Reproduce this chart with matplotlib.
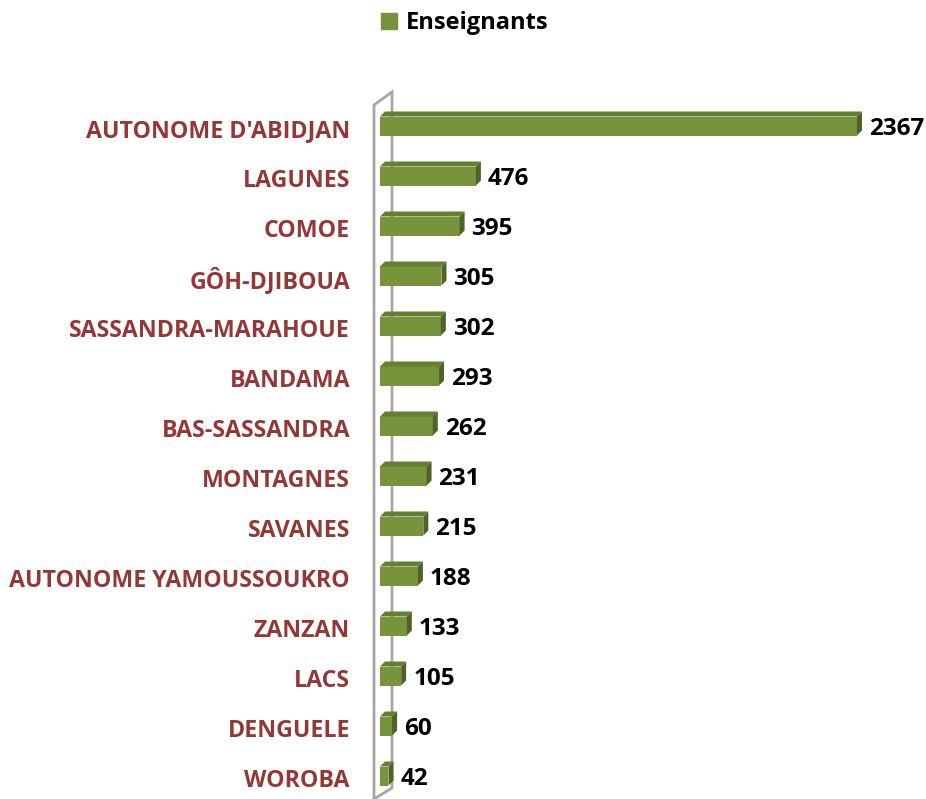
import numpy as np
import matplotlib
matplotlib.use("Agg")
import matplotlib.pyplot as plt
from matplotlib.patches import Polygon, Patch

regions = ["AUTONOME D'ABIDJAN", "LAGUNES", "COMOE", "GÔH-DJIBOUA",
           "SASSANDRA-MARAHOUE", "BANDAMA", "BAS-SASSANDRA", "MONTAGNES",
           "SAVANES", "AUTONOME YAMOUSSOUKRO", "ZANZAN", "LACS",
           "DENGUELE", "WOROBA"]
enseignants = [2367, 476, 395, 305, 302, 293, 262, 231, 215, 188, 133, 105, 60, 42]
series_name = "Enseignants"

front_col = "#77933c"
top_col = "#647f30"
side_col = "#4f6228"
label_col = "#953735"
wall_col = "#a6a6a6"
font = "Open Sans"

W, H = 926, 799
fig = plt.figure(figsize=(W / 100, H / 100), dpi=100)
ax_left = 380
ax = fig.add_axes([ax_left / W, 0, (W - ax_left) / W, 1])

px_per_unit = 0.2015          # pixels per teacher along x
row_px = 50                   # pixels per category row
xmax = (W - ax_left) / px_per_unit
ax.set_xlim(0, xmax)
ax.set_ylim(-23 / row_px, (H - 23) / row_px)

ux = 1 / px_per_unit          # one pixel in x data units
uy = 1 / row_px               # one pixel in y data units

y = np.arange(len(regions))[::-1]
h = 19 * uy
dx, dy = 5 * ux, 5 * uy

# back wall, drawn first so bars sit in front of it
wl, wr = -6 * ux, 12 * ux
wall = [(wl, -0.5), (wl, 13.42), (wr, 13.68), (wr, -0.24), (wl, -0.46)]
ax.plot([p[0] for p in wall], [p[1] for p in wall], color=wall_col,
        lw=2, clip_on=False, zorder=1, solid_joinstyle="miter")

ax.barh(y, enseignants, height=h, color=front_col, zorder=3, linewidth=0)
for yi, v, name in zip(y, enseignants, regions):
    t = yi + h / 2
    b = yi - h / 2
    ax.add_patch(Polygon([(0, t), (v, t), (v + dx, t + dy), (dx, t + dy)],
                         closed=True, facecolor=top_col, lw=0, zorder=3))
    ax.add_patch(Polygon([(v, b), (v + dx, b + dy), (v + dx, t + dy), (v, t)],
                         closed=True, facecolor=side_col, lw=0, zorder=3))
    ax.annotate(str(v), (v + dx, yi), xytext=(5, -2), textcoords="offset points",
                ha="left", va="center", fontsize=17.5, fontweight="bold",
                family=font, color="black", annotation_clip=False)
    # category name, a little below the bar centre
    ax.annotate(name, (0, yi), xytext=(-21.6, -3.5), textcoords="offset points",
                ha="right", va="center", fontsize=16.7, fontweight="bold",
                family=font, color=label_col, annotation_clip=False)

ax.set_xticks([])
ax.set_yticks([])
for s in ax.spines.values():
    s.set_visible(False)
ax.patch.set_alpha(0)

ax.legend(handles=[Patch(color=front_col, label=series_name)],
          loc="center", bbox_to_anchor=(465 / W, 1 - 23 / H),
          bbox_transform=fig.transFigure, frameon=False,
          handlelength=0.65, handleheight=0.65, handletextpad=0.4,
          prop={"family": font, "weight": "bold", "size": 17})

fig.savefig("out.png", dpi=100)
